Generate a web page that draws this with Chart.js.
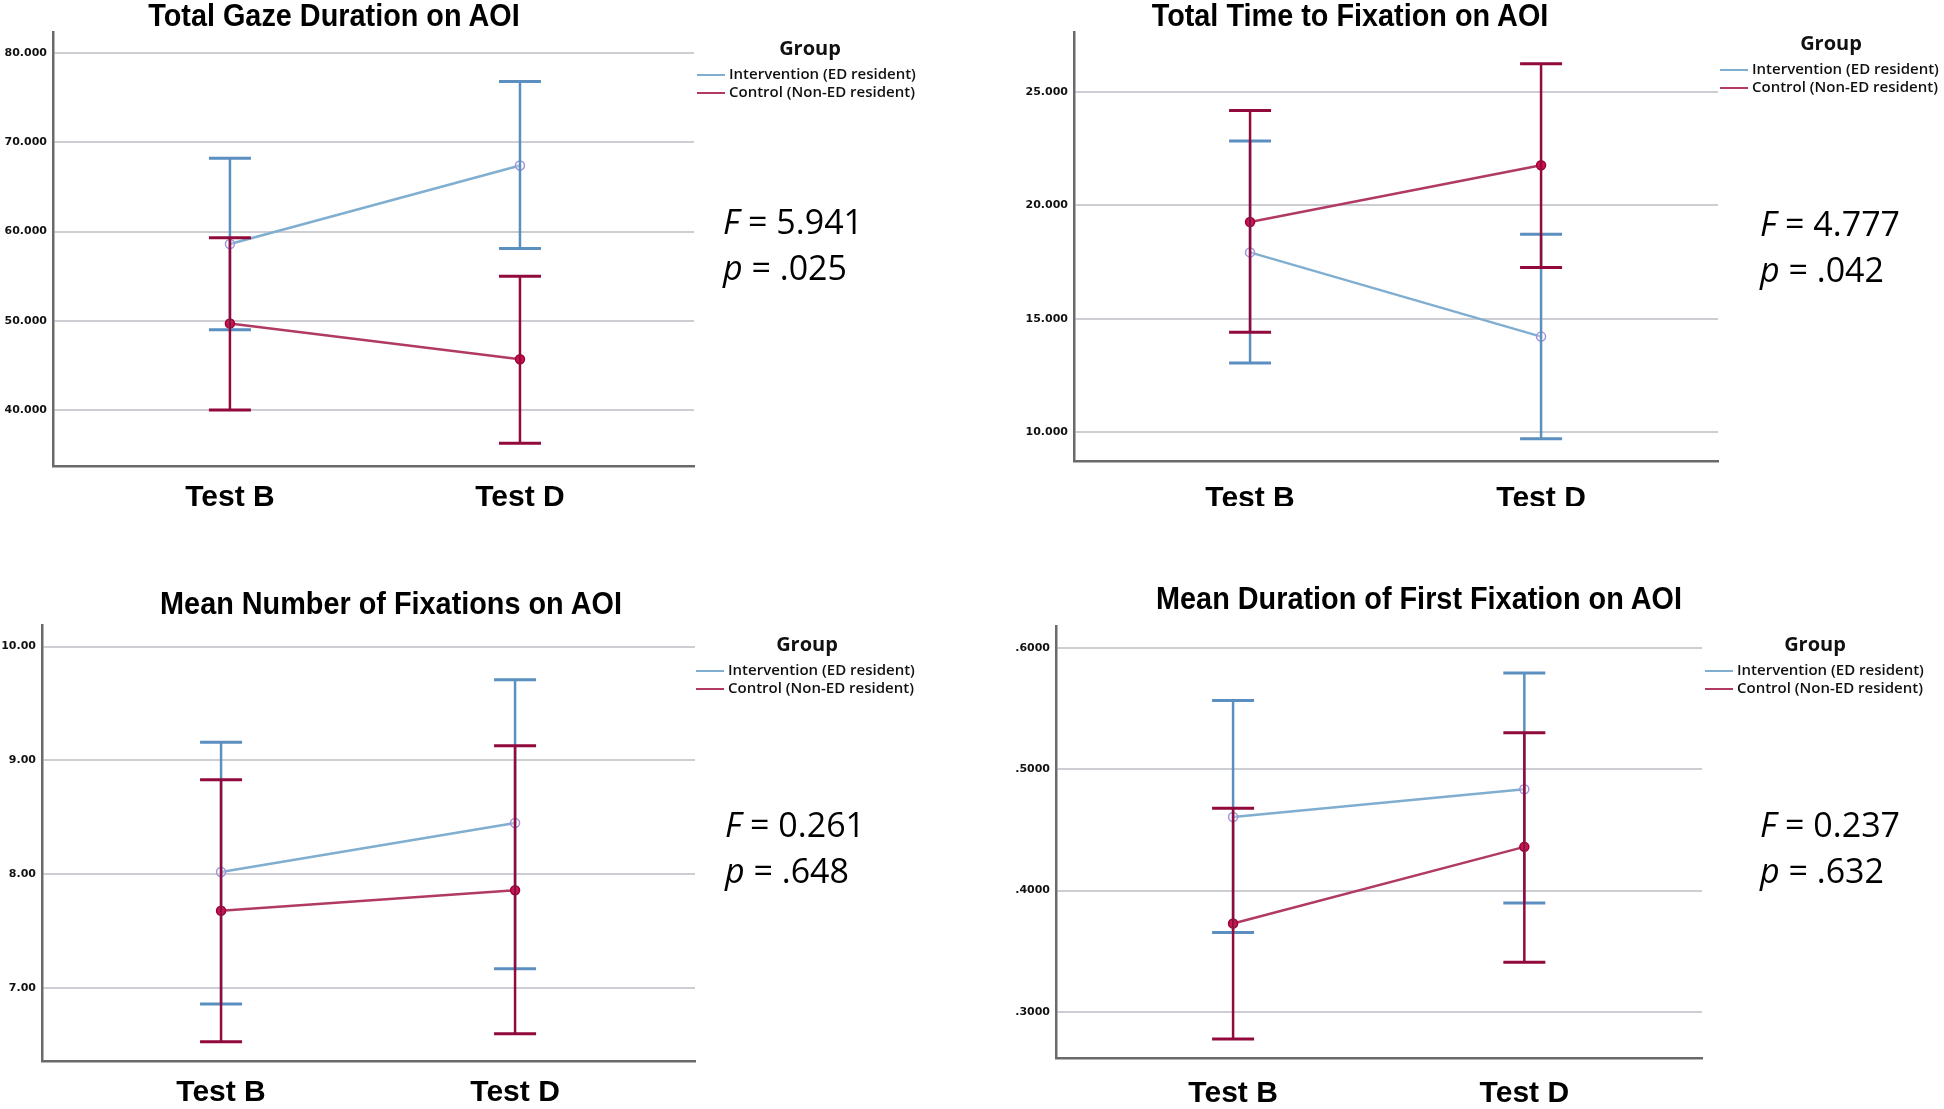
<!DOCTYPE html>
<html>
<head>
<meta charset="utf-8">
<script src="https://cdn.jsdelivr.net/npm/chart.js@4.4.1/dist/chart.umd.min.js"></script>
<style>
  body { margin: 0; background: #fff; width: 1944px; height: 1109px; position: relative; overflow: hidden; }
  canvas { position: absolute; }
  .title { position: absolute; transform: translate(-50%, -50%) scaleX(0.93); white-space: nowrap;
           font-family: 'Liberation Sans', sans-serif; font-weight: bold; font-size: 31px; color: #000; }
  .group { position: absolute; transform: translate(-50%, -50%); font-family: 'Open Sans', sans-serif; font-weight: 700; font-size: 20px; color: #111; }
  .item { position: absolute; transform: translateY(-50%); white-space: nowrap; font-family: 'Open Sans', sans-serif; font-weight: 600; font-size: 15px; color: #111; }
  .item span { display: inline-block; width: 28px; height: 2px; vertical-align: middle; margin-right: 4px; }
  .stat { position: absolute; white-space: nowrap; font-family: 'Open Sans', sans-serif; font-size: 34px; color: #000; line-height: 46px; }
</style>
</head>
<body>
<script>
const tests = ['Test B', 'Test D'];
const groupLabels = ['Intervention (ED resident)', 'Control (Non-ED resident)'];

// Total Gaze Duration on AOI
const gazeTicks = [40, 50, 60, 70, 80];
const gazeIntMean = [58.6, 67.4];
const gazeIntLow = [49.0, 58.1];
const gazeIntHigh = [68.2, 76.8];
const gazeCtlMean = [49.7, 45.7];
const gazeCtlLow = [40.0, 36.3];
const gazeCtlHigh = [59.3, 55.0];
const gazeStats = ['5.941', '.025'];

// Total Time to Fixation on AOI
const ttfTicks = [10, 15, 20, 25];
const ttfIntMean = [17.93, 14.22];
const ttfIntLow = [13.06, 9.72];
const ttfIntHigh = [22.84, 18.73];
const ttfCtlMean = [19.27, 21.77];
const ttfCtlLow = [14.41, 17.27];
const ttfCtlHigh = [24.18, 26.24];
const ttfStats = ['4.777', '.042'];

// Mean Number of Fixations on AOI
const nfixTicks = [7, 8, 9, 10];
const nfixIntMean = [8.02, 8.45];
const nfixIntLow = [6.86, 7.17];
const nfixIntHigh = [9.16, 9.71];
const nfixCtlMean = [7.68, 7.86];
const nfixCtlLow = [6.53, 6.60];
const nfixCtlHigh = [8.83, 9.13];
const nfixStats = ['0.261', '.648'];

// Mean Duration of First Fixation on AOI
const firstTicks = [0.3, 0.4, 0.5, 0.6];
const firstIntMean = [0.4606, 0.4835];
const firstIntLow = [0.3654, 0.3897];
const firstIntHigh = [0.5567, 0.5793];
const firstCtlMean = [0.3729, 0.436];
const firstCtlLow = [0.2777, 0.341];
const firstCtlHigh = [0.4679, 0.530];
const firstStats = ['0.237', '.632'];

const BLUE_LINE = '#80aed0', BLUE_BAR = '#5b8fc0', BLUE_PT = '#a193d8';
const RED_LINE = '#b03a64', RED_BAR = '#920a3c', RED_PT = '#d0124c';
const GRID = '#cdced4', AXIS = '#6a6a6a';

const panels = [
  { title: 'Total Gaze Duration on AOI', titleX: 334, titleY: 16, labelPad: 14,
    box: [0, 0, 972, 554], area: [53, 32, 694, 466], yRange: [33.74, 82.35], xRange: [0.39, 2.6],
    ticks: gazeTicks, fmt: v => v.toFixed(3),
    int: [gazeIntMean, gazeIntLow, gazeIntHigh], ctl: [gazeCtlMean, gazeCtlLow, gazeCtlHigh],
    legend: [810, 47, 697], stat: [723, 198], stats: gazeStats },
  { title: 'Total Time to Fixation on AOI', titleX: 1350, titleY: 16, labelPad: 20,
    box: [972, 0, 972, 554], area: [1074, 32, 1718, 461], yRange: [8.74, 27.64], xRange: [0.395, 2.608],
    ticks: ttfTicks, fmt: v => v.toFixed(3),
    int: [ttfIntMean, ttfIntLow, ttfIntHigh], ctl: [ttfCtlMean, ttfCtlLow, ttfCtlHigh],
    legend: [1831, 42, 1720], stat: [1760, 200], stats: ttfStats },
  { title: 'Mean Number of Fixations on AOI', titleX: 391, titleY: 604, labelPad: 14,
    box: [0, 554, 972, 555], area: [42, 625, 695, 1061], yRange: [6.36, 10.19], xRange: [0.391, 2.612],
    ticks: nfixTicks, fmt: v => v.toFixed(2),
    int: [nfixIntMean, nfixIntLow, nfixIntHigh], ctl: [nfixCtlMean, nfixCtlLow, nfixCtlHigh],
    legend: [807, 643, 696], stat: [725, 801], stats: nfixStats },
  { title: 'Mean Duration of First Fixation on AOI', titleX: 1419, titleY: 599, labelPad: 18,
    box: [972, 554, 972, 555], area: [1056, 626, 1702, 1058], yRange: [0.262, 0.618], xRange: [0.392, 2.61],
    ticks: firstTicks, fmt: v => v.toFixed(4).replace(/^0/, ''),
    int: [firstIntMean, firstIntLow, firstIntHigh], ctl: [firstCtlMean, firstCtlLow, firstCtlHigh],
    legend: [1815, 643, 1705], stat: [1760, 801], stats: firstStats }
];

const errorBars = {
  id: 'errorBars',
  afterDatasetsDraw(chart) {
    const { ctx, scales: { x, y } } = chart;
    chart.data.datasets.forEach(ds => {
      ds.low.forEach((lo, i) => {
        const px = x.getPixelForValue(i + 1);
        const yl = y.getPixelForValue(lo);
        const yh = y.getPixelForValue(ds.high[i]);
        ctx.save();
        ctx.strokeStyle = ds.barColor;
        ctx.lineWidth = 2.5;
        ctx.beginPath();
        ctx.moveTo(px, yl); ctx.lineTo(px, yh);
        ctx.stroke();
        ctx.lineWidth = 3;
        ctx.beginPath();
        ctx.moveTo(px - 21, yl); ctx.lineTo(px + 21, yl);
        ctx.moveTo(px - 21, yh); ctx.lineTo(px + 21, yh);
        ctx.stroke();
        ctx.restore();
      });
    });
  }
};

function addDiv(cls, html, x, y) {
  const d = document.createElement('div');
  d.className = cls;
  d.innerHTML = html;
  d.style.left = x + 'px';
  d.style.top = y + 'px';
  document.body.appendChild(d);
}

panels.forEach(p => {
  const [bx, by, bw, bh] = p.box;
  const [al, at, ar, ab] = p.area;
  const canvas = document.createElement('canvas');
  canvas.width = bw; canvas.height = bh;
  canvas.style.left = bx + 'px'; canvas.style.top = by + 'px';
  canvas.style.width = bw + 'px'; canvas.style.height = bh + 'px';
  document.body.appendChild(canvas);

  const xh = 45;
  const series = (vals, label, lineColor, barColor, ptFill, ptBorder) => ({
    label,
    data: vals[0].map((v, i) => ({ x: i + 1, y: v })),
    low: vals[1], high: vals[2], barColor,
    borderColor: lineColor, borderWidth: 2.5,
    pointRadius: 4.5, pointBackgroundColor: ptFill, pointBorderColor: ptBorder, pointBorderWidth: 1.5
  });

  new Chart(canvas, {
    type: 'line',
    data: {
      datasets: [
        series(p.int, groupLabels[0], BLUE_LINE, BLUE_BAR, 'rgba(255,255,255,0.3)', BLUE_PT),
        series(p.ctl, groupLabels[1], RED_LINE, RED_BAR, RED_PT, '#9c0034')
      ]
    },
    options: {
      responsive: false,
      animation: false,
      devicePixelRatio: 1,
      layout: { padding: { left: 0, top: at - by, right: bx + bw - ar, bottom: by + bh - ab - xh } },
      plugins: { legend: { display: false }, tooltip: { enabled: false } },
      scales: {
        x: {
          type: 'linear', min: p.xRange[0], max: p.xRange[1],
          afterBuildTicks: s => { s.ticks = tests.map((t, i) => ({ value: i + 1 })); },
          afterFit: s => { s.height = xh; },
          grid: { display: false, drawTicks: false },
          border: { display: true, color: AXIS, width: 2.5 },
          ticks: {
            padding: p.labelPad, color: '#000', maxRotation: 0,
            font: { family: "'Liberation Sans', sans-serif", weight: 'bold', size: 30 },
            callback: v => tests[v - 1]
          }
        },
        y: {
          type: 'linear', min: p.yRange[0], max: p.yRange[1],
          afterBuildTicks: s => { s.ticks = p.ticks.map(v => ({ value: v })); },
          afterFit: s => { s.width = al - bx; },
          grid: { color: GRID, lineWidth: 2, drawTicks: false },
          border: { display: true, color: AXIS, width: 2.5 },
          ticks: {
            padding: 6, color: '#111',
            font: { family: "'DejaVu Sans', sans-serif", weight: 'bold', size: 11 },
            callback: v => p.fmt(v)
          }
        }
      }
    },
    plugins: [errorBars]
  });

  addDiv('title', p.title, p.titleX, p.titleY);
  const [gx, gy, sx] = p.legend;
  addDiv('group', 'Group', gx, gy);
  addDiv('item', `<span style="background:${BLUE_LINE}"></span>${groupLabels[0]}`, sx, gy + 26);
  addDiv('item', `<span style="background:${RED_LINE}"></span>${groupLabels[1]}`, sx, gy + 44);
  addDiv('stat', `<i>F</i> = ${p.stats[0]}<br><i>p</i> = ${p.stats[1]}`, p.stat[0], p.stat[1]);
});
</script>
</body>
</html>
